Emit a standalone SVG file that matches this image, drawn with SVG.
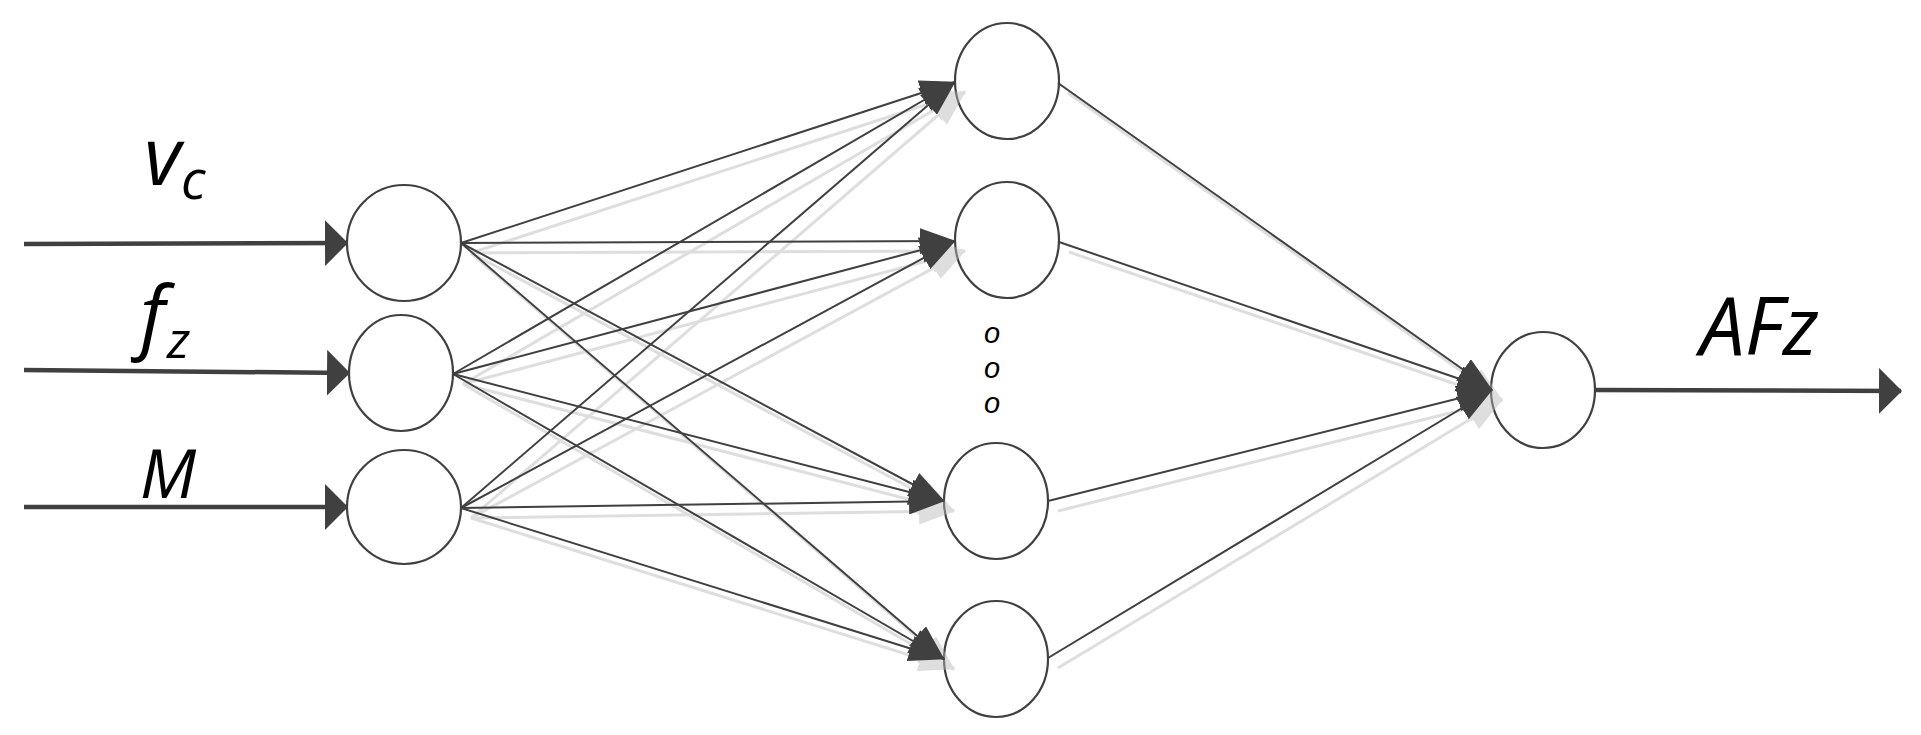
<svg xmlns="http://www.w3.org/2000/svg" width="1921" height="735" viewBox="0 0 1921 735">
<style>
.node{fill:#fff;stroke:#404040;stroke-width:2.2}
.io{stroke:#404040;stroke-width:4.5;fill:none;marker-end:url(#bigHead)}
.edge{stroke:#404040;stroke-width:2;fill:none;marker-end:url(#head)}
.shadow line{stroke:#b8b8b8;stroke-width:3;fill:none;marker-end:url(#shHead)}
.lbl{font-family:"Open Sans","Noto Sans","Liberation Sans",sans-serif;font-style:italic;fill:#000}
.dot{font-family:"Liberation Sans",Arial,sans-serif;font-style:italic;font-size:29px;fill:#000}
</style>
<defs>
<marker id="head" markerUnits="userSpaceOnUse" markerWidth="36" markerHeight="26" refX="35" refY="13" orient="auto">
<path d="M0,0 L36,13 L0,26 z" fill="#404040"/>
</marker>
<marker id="shHead" markerUnits="userSpaceOnUse" markerWidth="36" markerHeight="26" refX="35" refY="13" orient="auto">
<path d="M0,0 L36,13 L0,26 z" fill="#b8b8b8"/>
</marker>
<marker id="bigHead" markerUnits="userSpaceOnUse" markerWidth="23" markerHeight="46" refX="22" refY="23" orient="auto">
<path d="M0,0 L23,23 L0,46 z" fill="#404040"/>
</marker>
</defs>
<rect width="1921" height="735" fill="#fff"/>

<g id="in1"><ellipse class="node" cx="404" cy="243" rx="57" ry="58"/></g>
<g id="in2"><ellipse class="node" cx="401" cy="373" rx="52" ry="58"/></g>
<g id="in3"><ellipse class="node" cx="404" cy="507" rx="57" ry="57"/></g>
<g id="h1"><ellipse class="node" cx="1007" cy="81" rx="52" ry="58"/></g>
<g id="h2"><ellipse class="node" cx="1007" cy="240" rx="52" ry="58"/></g>
<g id="h3"><ellipse class="node" cx="996" cy="501" rx="52" ry="58"/></g>
<g id="h4"><ellipse class="node" cx="996" cy="659" rx="52" ry="58"/></g>
<g id="out"><ellipse class="node" cx="1543" cy="390" rx="52" ry="58"/></g>

<g id="connectors">
<g class="shadow" opacity="0.45" transform="translate(10,10)">
<line x1="461" y1="243" x2="955" y2="82"/>
<line x1="461" y1="243" x2="955" y2="241"/>
<line x1="461" y1="243" x2="944" y2="501"/>
<line x1="461" y1="243" x2="944" y2="659"/>
<line x1="453" y1="374" x2="955" y2="82"/>
<line x1="453" y1="374" x2="955" y2="241"/>
<line x1="453" y1="374" x2="944" y2="501"/>
<line x1="453" y1="374" x2="944" y2="659"/>
<line x1="461" y1="508" x2="955" y2="82"/>
<line x1="461" y1="508" x2="955" y2="241"/>
<line x1="461" y1="508" x2="944" y2="501"/>
<line x1="461" y1="508" x2="944" y2="659"/>
<line x1="1058" y1="83" x2="1492" y2="390"/>
<line x1="1059" y1="242" x2="1492" y2="390"/>
<line x1="1048" y1="501" x2="1492" y2="390"/>
<line x1="1048" y1="658" x2="1492" y2="390"/>
</g>
<line class="edge" x1="461" y1="243" x2="955" y2="82"/>
<line class="edge" x1="461" y1="243" x2="955" y2="241"/>
<line class="edge" x1="461" y1="243" x2="944" y2="501"/>
<line class="edge" x1="461" y1="243" x2="944" y2="659"/>
<line class="edge" x1="453" y1="374" x2="955" y2="82"/>
<line class="edge" x1="453" y1="374" x2="955" y2="241"/>
<line class="edge" x1="453" y1="374" x2="944" y2="501"/>
<line class="edge" x1="453" y1="374" x2="944" y2="659"/>
<line class="edge" x1="461" y1="508" x2="955" y2="82"/>
<line class="edge" x1="461" y1="508" x2="955" y2="241"/>
<line class="edge" x1="461" y1="508" x2="944" y2="501"/>
<line class="edge" x1="461" y1="508" x2="944" y2="659"/>
<line class="edge" x1="1058" y1="83" x2="1492" y2="390"/>
<line class="edge" x1="1059" y1="242" x2="1492" y2="390"/>
<line class="edge" x1="1048" y1="501" x2="1492" y2="390"/>
<line class="edge" x1="1048" y1="658" x2="1492" y2="390"/>
<line class="io" x1="24" y1="244" x2="347" y2="243"/>
<line class="io" x1="24" y1="370" x2="349" y2="373"/>
<line class="io" x1="24" y1="507" x2="347" y2="507"/>
<line class="io" x1="1595" y1="390" x2="1901" y2="391"/>
</g>

<g id="labels">
<text class="lbl" x="144" y="185" font-size="80">v</text>
<text class="lbl" x="181" y="199" font-size="54">c</text>
<text class="lbl" x="140" y="344" font-size="80">f</text>
<text class="lbl" x="167" y="358" font-size="52">z</text>
<text class="lbl" x="140" y="498" font-size="67">M</text>
<text class="lbl" x="1700" y="355" font-size="80">AFz</text>
<text class="dot" x="984" y="343">o</text>
<text class="dot" x="984" y="378">o</text>
<text class="dot" x="984" y="413">o</text>
</g>
</svg>
